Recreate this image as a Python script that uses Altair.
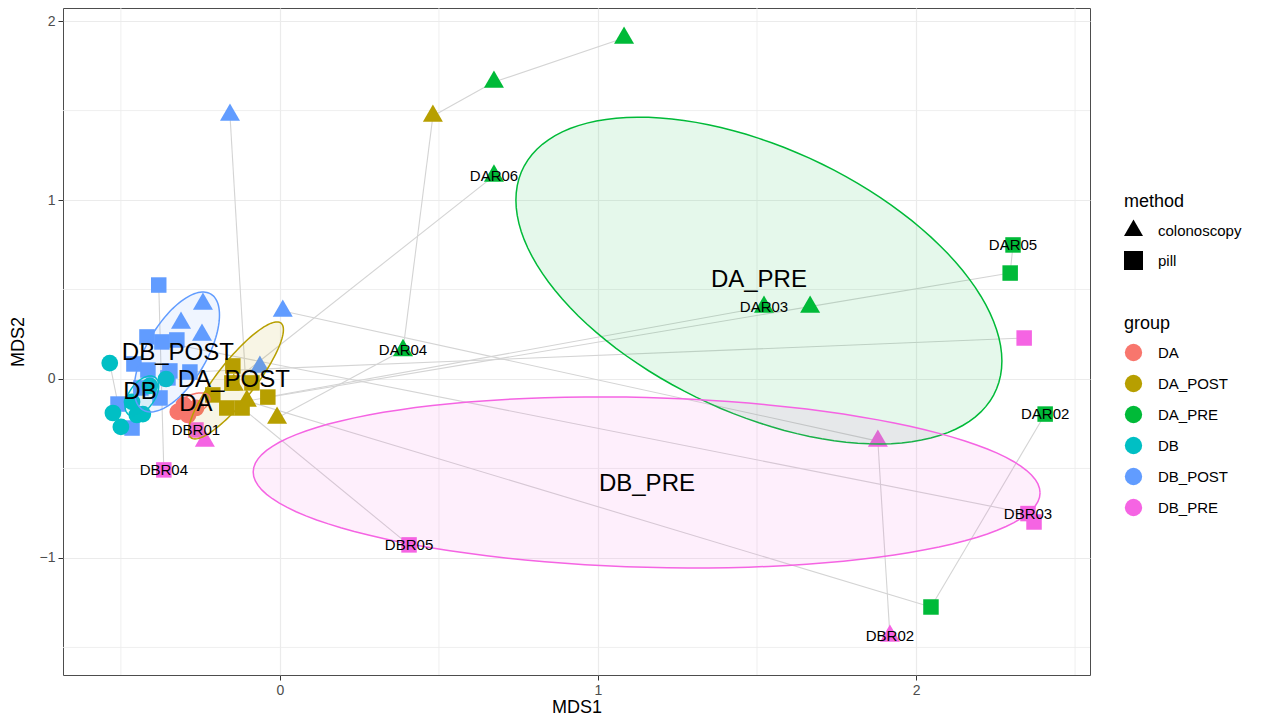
import numpy as np
import pandas as pd
import altair as alt

# ---------------- data ----------------
groups = ["DA", "DA_POST", "DA_PRE", "DB", "DB_POST", "DB_PRE"]
group_colors = ["#F8766D", "#B79F00", "#00BA38", "#00BFC4", "#619CFF", "#F564E3"]
methods = ["colonoscopy", "pill"]

pt_x = [1.082, 0.673, 0.673, 0.387, 1.522, 1.667, 2.305, 2.296, 2.406, 2.047,
        0.481, -0.009, -0.104, -0.145, -0.148, -0.151, -0.088, -0.038, -0.119, -0.167, -0.211,
        -0.321, -0.289, -0.264, -0.302,
        -0.535, -0.525, -0.500, -0.450, -0.431, -0.409, -0.358, -0.465,
        -0.157, 0.009, -0.242, -0.311, -0.245, -0.063,
        -0.381, -0.418, -0.371, -0.324, -0.459, -0.415, -0.346, -0.437, -0.509, -0.377, -0.465, -0.352, -0.283,
        1.880, 1.918, -0.236, 2.340, 2.352, 2.371, 0.406, -0.365, -0.264]
pt_y = [1.905, 1.659, 1.135, 0.160, 0.402, 0.402, 0.749, 0.592, -0.196, -1.274,
        1.469, -0.218, -0.123, -0.034, 0.073, -0.022, -0.022, -0.101, -0.162, -0.162, -0.089,
        -0.184, -0.201, -0.162, -0.145,
        0.089, -0.190, -0.268, -0.201, -0.196, -0.039, 0.000, -0.128,
        1.475, 0.380, 0.419, 0.313, 0.246, 0.067,
        0.525, 0.235, 0.207, 0.218, 0.084, 0.050, 0.045, -0.050, -0.140, -0.106, -0.274, 0.006, 0.039,
        -0.347, -1.436, -0.347, 0.229, -0.752, -0.799, -0.927, -0.508, -0.285]
pt_group = (["DA_PRE"] * 10 + ["DA_POST"] * 11 + ["DA"] * 4 + ["DB"] * 8
            + ["DB_POST"] * 19 + ["DB_PRE"] * 9)
pt_method = (["colonoscopy"] * 6 + ["pill"] * 4
             + ["colonoscopy"] * 4 + ["pill"] * 7
             + ["none"] * 4 + ["none"] * 8
             + ["colonoscopy"] * 6 + ["pill"] * 13
             + ["colonoscopy"] * 3 + ["pill"] * 6)
pt_label = ["", "", "DAR06", "DAR04", "DAR03", "", "DAR05", "", "DAR02", ""] \
    + [""] * 11 + [""] * 4 + [""] * 8 + [""] * 19 \
    + ["", "DBR02", "", "", "DBR03", "", "DBR05", "DBR04", "DBR01"]

seg_from = [10, 1, 10, 33, 2, 34, 51, 17, 12, 41, 12, 18, 11, 39, 25, 53, 8, 6]
seg_to = [1, 0, 3, 12, 15, 52, 55, 4, 7, 56, 9, 58, 3, 59, 47, 52, 9, 7]

# ellipse read-offs: centre, half-extents and phase (degrees)
ell_group = ["DA", "DA_POST", "DA_PRE", "DB", "DB_POST", "DB_PRE"]
ell_cx = [-0.277, -0.138, 1.506, -0.434, -0.324, 1.153]
ell_cy = [-0.145, -0.008, 0.550, -0.095, 0.151, -0.578]
ell_rx = [0.057, 0.149, 0.764, 0.053, 0.134, 1.237]
ell_ry = [0.067, 0.327, 0.913, 0.112, 0.335, 0.478]
ell_phase = [60, 30, 119.5, 60, 52, 97]

cen_group = ["DA", "DA_POST", "DA_PRE", "DB", "DB_POST", "DB_PRE"]
cen_x = [-0.264, -0.145, 1.506, -0.440, -0.321, 1.154]
cen_y = [-0.140, -0.005, 0.553, -0.070, 0.148, -0.587]

x_minor = [-0.5, 0.5, 1.5, 2.5]
y_minor = [-1.5, -0.5, 0.5, 1.5]

# ---------------- tables ----------------
pts = pd.DataFrame({"x": pt_x, "y": pt_y, "group": pt_group,
                    "method": pt_method, "label": pt_label})
segs = pd.DataFrame({"x": [pt_x[i] for i in seg_from], "y": [pt_y[i] for i in seg_from],
                     "x2": [pt_x[i] for i in seg_to], "y2": [pt_y[i] for i in seg_to]})
t = np.linspace(0, 2 * np.pi, 121)
ell_rows = []
for g, cx, cy, rx, ry, ph in zip(ell_group, ell_cx, ell_cy, ell_rx, ell_ry, ell_phase):
    d = np.deg2rad(ph)
    for i, tt in enumerate(t):
        ell_rows.append({"group": g, "i": i,
                         "x": cx + rx * np.cos(tt), "y": cy + ry * np.cos(tt - d)})
ells = pd.DataFrame(ell_rows)
cens = pd.DataFrame({"x": cen_x, "y": cen_y, "group": cen_group})

FONT = "Liberation Sans"
xs = alt.Scale(domain=[-0.682, 2.547], nice=False, zero=False)
ys = alt.Scale(domain=[-1.654, 2.073], nice=False, zero=False)
cscale = alt.Scale(domain=groups, range=group_colors)
tri_path = "M0,-1.155L1,0.577L-1,0.577Z"
sscale = alt.Scale(domain=methods, range=[tri_path, "square"])

X = alt.X("x:Q", scale=xs, title="MDS1",
          axis=alt.Axis(values=[0, 1, 2], format="d"))
Y = alt.Y("y:Q", scale=ys, title="MDS2",
          axis=alt.Axis(values=[-1, 0, 1, 2], format="d"))

COLOR = alt.Color("group:N", scale=cscale, title="group",
                  legend=alt.Legend(orient="none", legendX=1061, legendY=307,
                                    symbolType="circle", symbolSize=300,
                                    rowPadding=12))
SHAPE = alt.Shape("method:N", scale=sscale, title="method",
                  legend=alt.Legend(orient="none", legendX=1061, legendY=185,
                                    symbolFillColor="black", symbolStrokeColor="black",
                                    symbolStrokeWidth=0, symbolSize=360, rowPadding=12))

minor_x = alt.Chart(pd.DataFrame({"v": x_minor})).mark_rule(
    color="#ebebeb", strokeWidth=0.8).encode(x=alt.X("v:Q", scale=xs))
minor_y = alt.Chart(pd.DataFrame({"v": y_minor})).mark_rule(
    color="#ebebeb", strokeWidth=0.8).encode(y=alt.Y("v:Q", scale=ys))

lines = alt.Chart(segs).mark_rule(color="#d4d4d4", strokeWidth=1.1).encode(
    x=X, y=Y, x2="x2:Q", y2="y2:Q")

tris = alt.Chart(pts).transform_filter(alt.datum.method == "colonoscopy").mark_point(
    filled=True, opacity=1, size=400).encode(x=X, y=Y, color=COLOR, shape=SHAPE)
sqs = alt.Chart(pts).transform_filter(alt.datum.method == "pill").mark_point(
    filled=True, opacity=1, size=240).encode(x=X, y=Y, color=COLOR, shape=SHAPE)
circles = alt.Chart(pts).transform_filter(alt.datum.method == "none").mark_point(
    filled=True, opacity=1, shape="circle", size=280).encode(
    x=X, y=Y, color=COLOR)

ell_layers = []
for g, c in zip(groups, group_colors):
    ell_layers.append(
        alt.Chart(ells).transform_filter(alt.datum.group == g).mark_line(
            stroke=c, fill=c, fillOpacity=0.1, strokeWidth=1.5).encode(
            x=alt.X("x:Q", scale=xs), y=alt.Y("y:Q", scale=ys), order="i:Q"))

pt_text = alt.Chart(pts).transform_filter(alt.datum.label != "").mark_text(
    font=FONT, fontSize=15, color="black", baseline="middle", align="center").encode(
    x=X, y=Y, text="label:N")
cen_text = alt.Chart(cens).mark_text(
    font=FONT, fontSize=24, color="black", baseline="middle", align="center").encode(
    x=X, y=Y, text="group:N")

chart = alt.layer(minor_x, minor_y, lines, tris, sqs, circles, *ell_layers,
                  pt_text, cen_text).properties(
    width=1027, height=667,
    autosize=alt.AutoSizeParams(type="none"),
    padding={"left": 55, "top": 0, "right": 155, "bottom": 41},
).configure_view(stroke="#4d4d4d", strokeWidth=1).configure_axis(
    grid=True, gridColor="#ebebeb", gridWidth=1.2, domain=False,
    tickColor="#333333", tickSize=5, labelFont=FONT, labelFontSize=14,
    labelColor="#4d4d4d", titleFont=FONT, titleFontSize=18,
    titleFontWeight="normal", titleColor="black", labelPadding=3,
).configure_axisX(titlePadding=1).configure_axisY(titlePadding=12).configure_legend(
    labelFont=FONT, labelFontSize=15, labelColor="black", titleFont=FONT,
    titleFontSize=18, titleFontWeight="normal", titleColor="black",
    titlePadding=10, labelOffset=15,
)

chart.save("out.html", embed_options={"renderer": "svg", "actions": False})
